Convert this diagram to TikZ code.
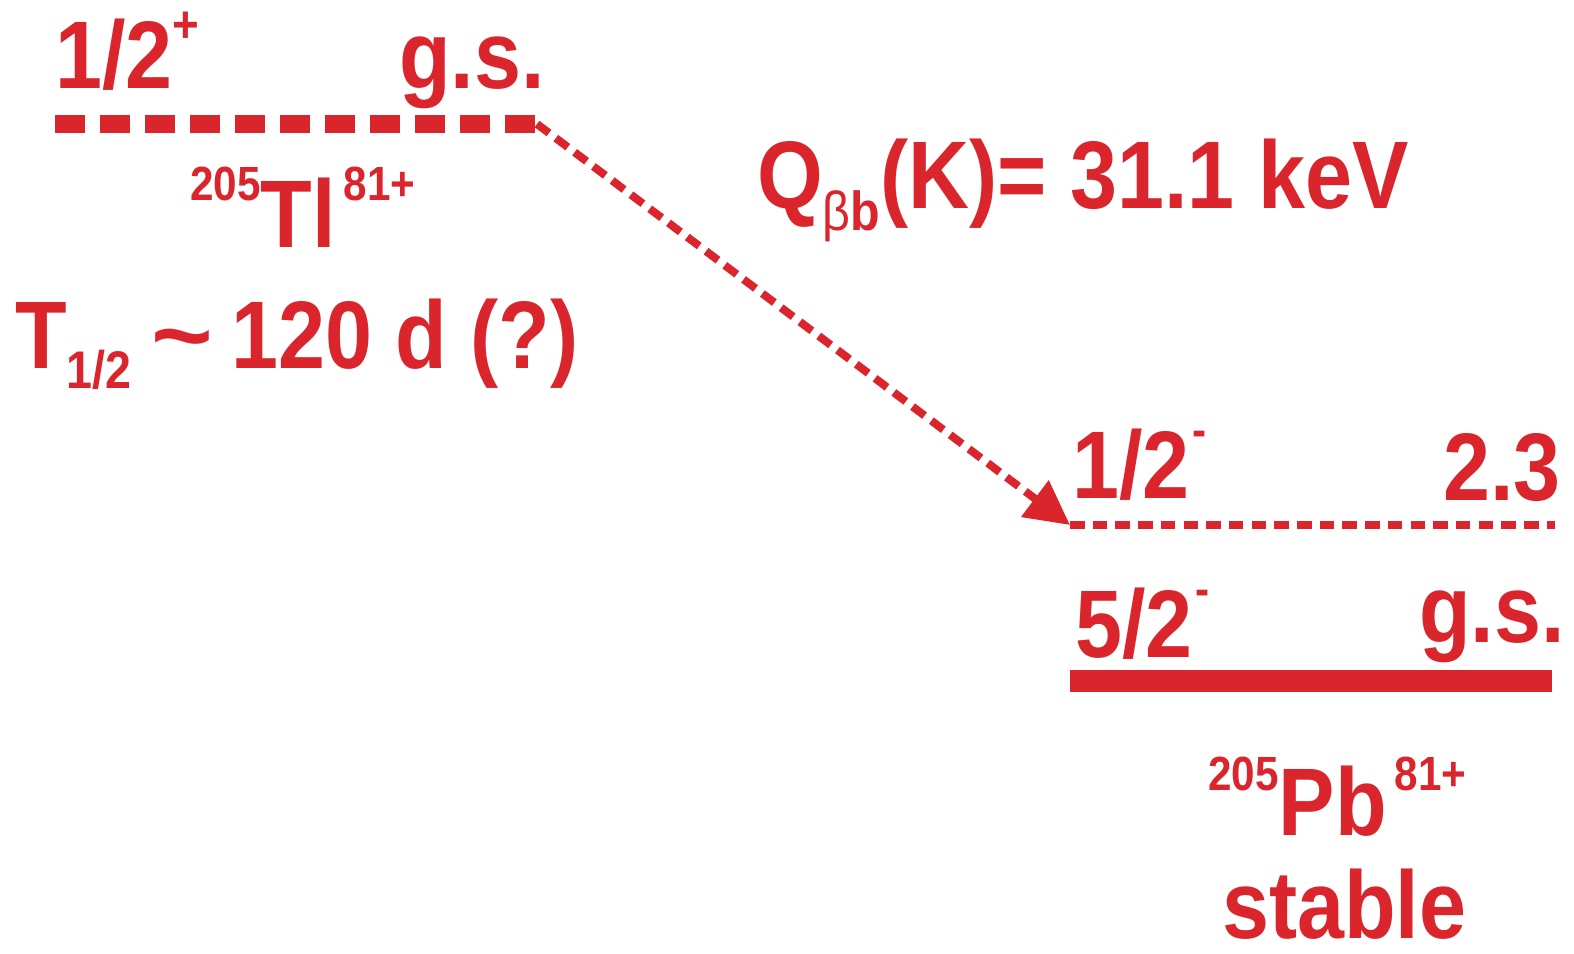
\documentclass[tikz,border=0pt]{standalone}
\usepackage{fontspec}
\newfontfamily\condfont[FakeStretch=0.88]{Liberation Sans}
\usetikzlibrary{arrows.meta,positioning}
\definecolor{NucRed}{RGB}{218,37,45}
% raised / lowered small text: {shift}{size}{text}
\newcommand{\lvlsup}[3]{\raisebox{#1pt}{\fontsize{#2}{#2}\selectfont #3}}
\newcommand{\lvlsub}[3]{\raisebox{-#1pt}{\fontsize{#2}{#2}\selectfont #3}}
\tikzset{
  lbl/.style={text=NucRed, inner sep=0pt, font=\condfont\bfseries\fontsize{96}{100}\selectfont},
  lvlmother/.style={draw=NucRed, line width=18pt, dash pattern=on 30pt off 15pt},
  lvlexc/.style={draw=NucRed, line width=8pt, dash pattern=on 14.5pt off 8.2pt},
  lvlgs/.style={draw=NucRed, line width=22pt},
  decayarr/.style={draw=NucRed, line width=8pt, dash pattern=on 15pt off 8.5pt,
    -{Triangle[length=44pt,width=44pt]}},
}
\begin{document}
\begin{tikzpicture}[x=1pt,y=-1pt]
\useasboundingbox (0,0) rectangle (1574,953);

% ===== 205Tl mother level =====
\coordinate (tlgs-l) at (55,124);
\coordinate (tlgs-r) at (537,124);
\draw[lvlmother] (tlgs-l) -- (tlgs-r);
\node[lbl, anchor=base west] (tlspin) at (55,88) {1/2\lvlsup{46}{52}{+}};
\node[lbl, anchor=base east] (tlgs) at (545,88) {g.s.};
\node[lbl, anchor=base west] (tlname) at (190,247)
  {\lvlsup{47}{48}{205}Tl\lvlsup{47}{48}{\,81+}};
\node[lbl, anchor=base west] (thalf) at (15,368)
  {T\lvlsub{20}{53}{1/2}\kern20pt\scalebox{1.25}[1]{\textasciitilde}\kern18pt 120 d (?)};

% ===== Q value =====
\node[lbl, anchor=base west] (qval) at (757,208)
  {Q\lvlsub{22}{55}{\mdseries β\bfseries b}(K)= 31.1 keV};

% ===== 205Pb levels =====
\coordinate (pbex-l) at (1070,525);
\coordinate (pbex-r) at (1555,525);
\draw[lvlexc] (pbex-l) -- (pbex-r);
\node[lbl, anchor=base west] (pbexspin) at (1072,498) {1/2\kern3pt\lvlsup{52}{48}{-}};
\node[lbl, anchor=base east] (pbexen) at (1561,500) {2.3};

\coordinate (pbgs-l) at (1070,681);
\coordinate (pbgs-r) at (1552,681);
\draw[lvlgs] (pbgs-l) -- (pbgs-r);
\node[lbl, anchor=base west] (pbgsspin) at (1075,657) {5/2\kern3pt\lvlsup{52}{48}{-}};
\node[lbl, anchor=base east] (pbgs) at (1565,642) {g.s.};

\node[lbl, anchor=base west] (pbname) at (1208,835)
  {\lvlsup{45}{48}{205}Pb\lvlsup{45}{48}{\,81+}};
\node[lbl, anchor=base west, text depth=0pt] (pbstable) at (1222,938) {stable};

% ===== bound-state beta decay =====
\draw[decayarr] (tlgs-r) -- (pbex-l);

\end{tikzpicture}
\end{document}
